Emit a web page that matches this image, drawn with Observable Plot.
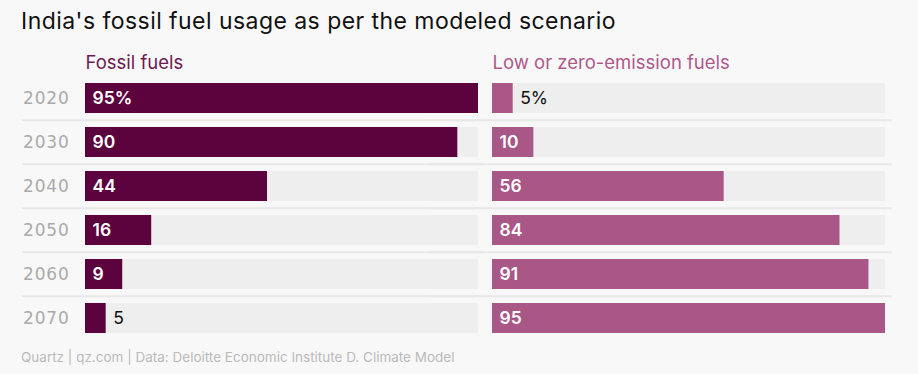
<!DOCTYPE html>
<html>
<head>
<meta charset="utf-8">
<script src="https://cdn.jsdelivr.net/npm/d3@7"></script>
<script src="https://cdn.jsdelivr.net/npm/@observablehq/plot@0.6"></script>
<style>
  html, body { margin: 0; padding: 0; background: #f8f8f8; }
  body { width: 918px; height: 374px; overflow: hidden; font-family: Inter, "Noto Sans", sans-serif; }
  #title { margin: 0; padding: 7px 0 0 21px; height: 33px; font-size: 23px; font-weight: 400; color: #111; line-height: 28px; letter-spacing: 0.45px; }
  #caption { padding: 6px 0 0 21px; font-size: 13.5px; color: #bbbbbb; line-height: 18px; }
  svg { display: block; }
  g[aria-label="y-axis tick label"] text { letter-spacing: 0.8px; }
  g[aria-label="inside-label"] text, g[aria-label="outside-label"] text { letter-spacing: 0.8px; }
</style>
</head>
<body>
<div id="title">India's fossil fuel usage as per the modeled scenario</div>
<div id="chart"></div>
<div id="caption">Quartz | qz.com | Data: Deloitte Economic Institute D. Climate Model</div>
<script>
const years = ["2020", "2030", "2040", "2050", "2060", "2070"];
const panels = ["Fossil fuels", "Low or zero-emission fuels"];
const fossil = [95, 90, 44, 16, 9, 5];
const lowZero = [5, 10, 56, 84, 91, 95];

const fossilColor = "#5c033d";
const lowColor = "#a95787";

const rows = [];
years.forEach((y, i) => {
  rows.push({year: y, panel: panels[0], value: fossil[i], label: i === 0 ? fossil[i] + "%" : String(fossil[i])});
  rows.push({year: y, panel: panels[1], value: lowZero[i], label: i === 0 ? lowZero[i] + "%" : String(lowZero[i])});
});
const xMax = d3.max(rows, d => d.value);
const insideThreshold = 8;

const chart = Plot.plot({
  width: 918,
  height: 302,
  marginLeft: 84,
  marginRight: 33,
  marginTop: 35,
  marginBottom: 1,
  style: {background: "transparent", fontFamily: "Inter, 'Noto Sans', sans-serif"},
  fx: {domain: panels, paddingInner: 0.0344, paddingOuter: 0, axis: null},
  x: {domain: [0, xMax], axis: null},
  y: {domain: years, paddingInner: 0.32, paddingOuter: 0.16, axis: null},
  color: {domain: panels, range: [fossilColor, lowColor]},
  marks: [
    Plot.ruleY(years.slice(1), {y: d => d, dy: -22.15, stroke: "#e8e8e8", strokeWidth: 2, insetLeft: -63, insetRight: -7, facet: "exclude"}),
    Plot.barX(rows, {fx: "panel", y: "year", x: () => xMax, fill: "#eeeeee"}),
    Plot.barX(rows, {fx: "panel", y: "year", x: "value", fill: "panel"}),
    Plot.text(rows.filter(d => d.value >= insideThreshold), {fx: "panel", y: "year", x: 0, text: "label", textAnchor: "start", dx: 7, fill: "white", fontSize: 17.5, fontWeight: 600, ariaLabel: "inside-label"}),
    Plot.text(rows.filter(d => d.value < insideThreshold), {fx: "panel", y: "year", x: "value", text: "label", textAnchor: "start", dx: 7, fill: "#111", fontSize: 17.5, fontWeight: 400, ariaLabel: "outside-label"}),
    Plot.axisY({tickSize: 0, tickPadding: 16, fontSize: 17, fontFamily: "'DejaVu Sans', sans-serif", color: "#aaaaaa", label: null}),
    Plot.text([panels[0]], {fx: d => d, text: d => d, frameAnchor: "top-left", lineAnchor: "bottom", dy: -7, fill: "#6e1a52", fontSize: 18.5}),
    Plot.text([panels[1]], {fx: d => d, text: d => d, frameAnchor: "top-left", lineAnchor: "bottom", dy: -7, fill: "#ae5a8c", fontSize: 18.5})
  ]
});
document.getElementById("chart").appendChild(chart);
</script>
</body>
</html>
